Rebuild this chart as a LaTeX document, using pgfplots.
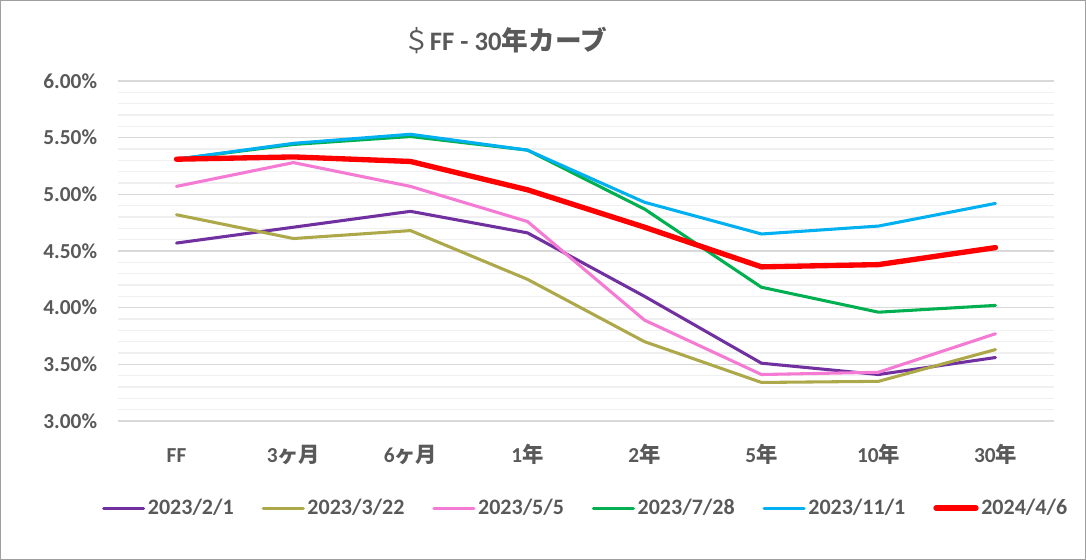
\documentclass[border=0pt]{standalone}
\usepackage{pgfplots}
\pgfplotsset{compat=1.18}
\usepackage{fontspec}
\setmainfont{Carlito}
\newfontfamily\jp{Noto Sans CJK JP}
\definecolor{txt}{HTML}{595959}
\definecolor{cpur}{HTML}{7030A0}
\definecolor{coli}{HTML}{ADA94A}
\definecolor{cpink}{HTML}{F47AD4}
\definecolor{cgreen}{HTML}{00B050}
\definecolor{ccyan}{HTML}{00B0F0}
\definecolor{cred}{HTML}{FF0000}
\definecolor{gmaj}{HTML}{D9D9D9}
\definecolor{gmin}{HTML}{F0F0F0}
\begin{document}
\begin{tikzpicture}
\draw[gray!75, line width=0.75pt, fill=white] (0.375pt,0.375pt) rectangle (814.125pt,419.625pt);
\node[text=txt, font=\fontsize{20}{24}\selectfont] at (378.75pt,390pt) {{\jp ＄}\textbf{FF - 30}{\jp\bfseries 年カーブ}};
\begin{axis}[
  at={(88.5pt,104.25pt)}, anchor=south west,
  scale only axis, width=702pt, height=255pt,
  xmin=-0.5, xmax=7.5, ymin=3, ymax=6,
  axis line style={draw=none},
  xtick={0,...,7},
  xticklabels={FF,3{\jp ヶ月},6{\jp ヶ月},1{\jp 年},2{\jp 年},5{\jp 年},10{\jp 年},30{\jp 年}},
  ytick={3,3.5,...,6},
  yticklabels={3.00\%,3.50\%,4.00\%,4.50\%,5.00\%,5.50\%,6.00\%},
  minor y tick num=4,
  major tick length=0pt, minor tick length=0pt,
  ymajorgrids, yminorgrids,
  major grid style={gmaj, line width=1.1pt},
  minor grid style={gmin, line width=1.1pt},
  tick label style={text=txt, font=\bfseries\fontsize{16}{18}\selectfont},
  yticklabel style={anchor=east, inner sep=0pt, xshift=-15.5pt},
  xticklabel style={anchor=base, inner sep=0pt, yshift=-31.5pt},
  legend columns=6,
  legend style={draw=none, fill=none, at={(0.5,-0.256)}, anchor=center,
    font=\bfseries\fontsize{16.5}{18}\selectfont, text=txt,
    /tikz/every even column/.append style={column sep=19pt}},
  legend image code/.code={\draw[#1] (0pt,0pt) -- (30pt,0pt);},
  every axis plot/.append style={line cap=round, line join=round, line width=2.3pt},
]
\addplot[cpur] coordinates {(0,4.57) (1,4.71) (2,4.85) (3,4.66) (4,4.10) (5,3.51) (6,3.41) (7,3.56)};
\addlegendentry{2023/2/1}
\addplot[coli] coordinates {(0,4.82) (1,4.61) (2,4.68) (3,4.25) (4,3.70) (5,3.34) (6,3.35) (7,3.63)};
\addlegendentry{2023/3/22}
\addplot[cpink] coordinates {(0,5.07) (1,5.28) (2,5.07) (3,4.76) (4,3.89) (5,3.41) (6,3.43) (7,3.77)};
\addlegendentry{2023/5/5}
\addplot[cgreen] coordinates {(0,5.31) (1,5.44) (2,5.51) (3,5.39) (4,4.87) (5,4.18) (6,3.96) (7,4.02)};
\addlegendentry{2023/7/28}
\addplot[ccyan] coordinates {(0,5.31) (1,5.45) (2,5.53) (3,5.39) (4,4.93) (5,4.65) (6,4.72) (7,4.92)};
\addlegendentry{2023/11/1}
\addplot[cred, line width=4pt] coordinates {(0,5.31) (1,5.33) (2,5.29) (3,5.04) (4,4.71) (5,4.36) (6,4.38) (7,4.53)};
\addlegendentry{2024/4/6}
\end{axis}
\end{tikzpicture}
\end{document}
